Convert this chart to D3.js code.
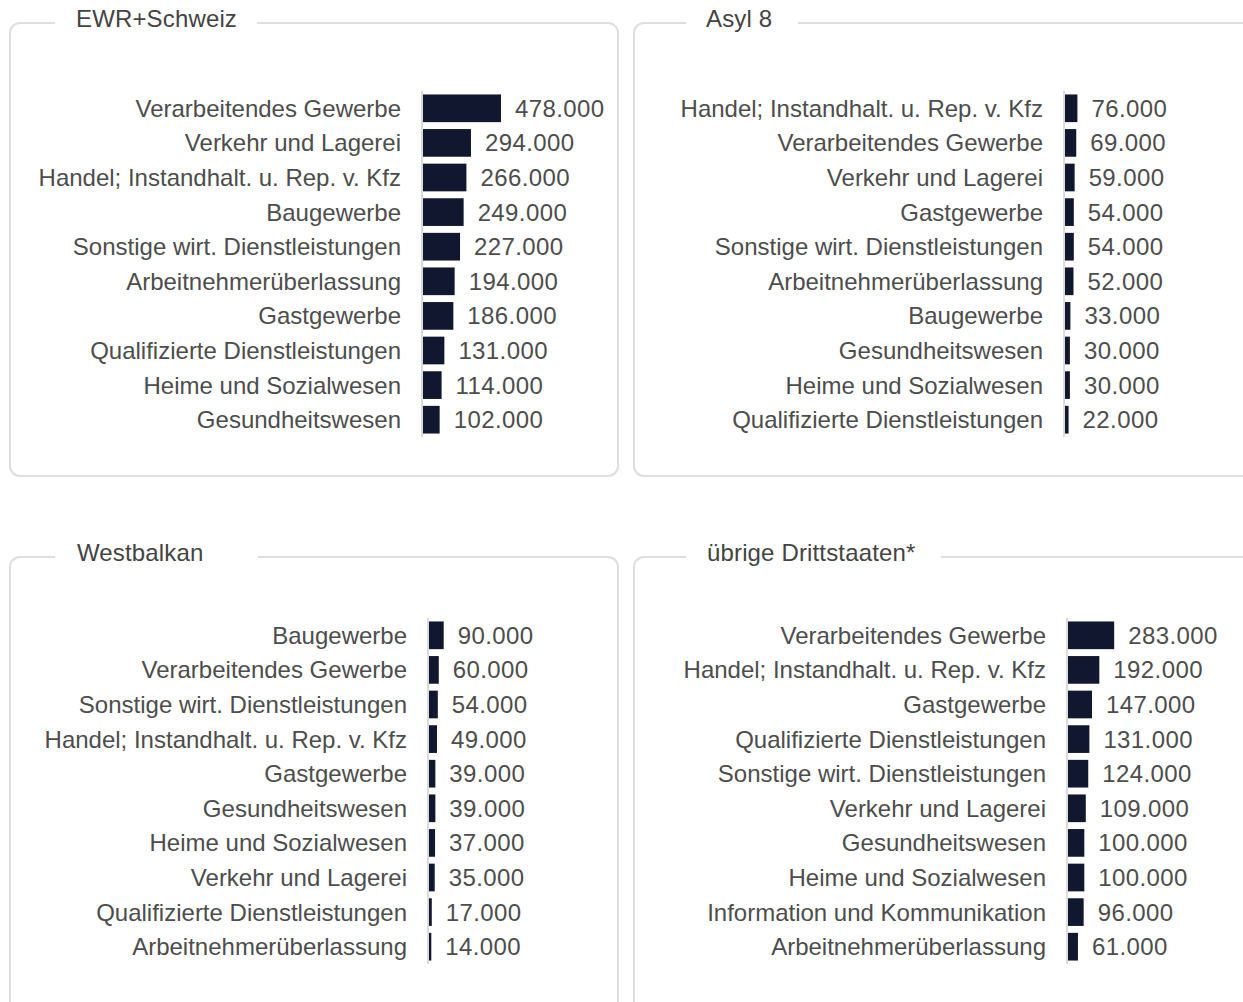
<!DOCTYPE html>
<html>
<head>
<meta charset="utf-8">
<script src="https://cdn.jsdelivr.net/npm/d3@7"></script>
<style>
  body { margin: 0; background: #fff; }
  text { font-family: "Liberation Sans", Arial, sans-serif; }
</style>
</head>
<body>
<script>
var width = 1243;
var height = 1002;

// data, one pair of arrays per panel
var ewrLabels = ["Verarbeitendes Gewerbe", "Verkehr und Lagerei", "Handel; Instandhalt. u. Rep. v. Kfz", "Baugewerbe",
    "Sonstige wirt. Dienstleistungen", "Arbeitnehmerüberlassung", "Gastgewerbe", "Qualifizierte Dienstleistungen",
    "Heime und Sozialwesen", "Gesundheitswesen"];
var ewrValues = [478000, 294000, 266000, 249000, 227000, 194000, 186000, 131000, 114000, 102000];

var asylLabels = ["Handel; Instandhalt. u. Rep. v. Kfz", "Verarbeitendes Gewerbe", "Verkehr und Lagerei", "Gastgewerbe",
    "Sonstige wirt. Dienstleistungen", "Arbeitnehmerüberlassung", "Baugewerbe", "Gesundheitswesen",
    "Heime und Sozialwesen", "Qualifizierte Dienstleistungen"];
var asylValues = [76000, 69000, 59000, 54000, 54000, 52000, 33000, 30000, 30000, 22000];

var balkanLabels = ["Baugewerbe", "Verarbeitendes Gewerbe", "Sonstige wirt. Dienstleistungen", "Handel; Instandhalt. u. Rep. v. Kfz",
    "Gastgewerbe", "Gesundheitswesen", "Heime und Sozialwesen", "Verkehr und Lagerei",
    "Qualifizierte Dienstleistungen", "Arbeitnehmerüberlassung"];
var balkanValues = [90000, 60000, 54000, 49000, 39000, 39000, 37000, 35000, 17000, 14000];

var drittLabels = ["Verarbeitendes Gewerbe", "Handel; Instandhalt. u. Rep. v. Kfz", "Gastgewerbe", "Qualifizierte Dienstleistungen",
    "Sonstige wirt. Dienstleistungen", "Verkehr und Lagerei", "Gesundheitswesen", "Heime und Sozialwesen",
    "Information und Kommunikation", "Arbeitnehmerüberlassung"];
var drittValues = [283000, 192000, 147000, 131000, 124000, 109000, 100000, 100000, 96000, 61000];

var panels = [
    { title: "EWR+Schweiz", labels: ewrLabels, values: ewrValues,
      x: 10, y: 23, w: 608, h: 453, gap: [55, 257], tx: 76, axisX: 422, top: 91 },
    { title: "Asyl 8", labels: asylLabels, values: asylValues,
      x: 634, y: 23, w: 620, h: 453, gap: [686, 798], tx: 706, axisX: 1064, top: 91 },
    { title: "Westbalkan", labels: balkanLabels, values: balkanValues,
      x: 10, y: 557, w: 608, h: 460, gap: [55, 258], tx: 77, axisX: 428, top: 618 },
    { title: "übrige Drittstaaten*", labels: drittLabels, values: drittValues,
      x: 634, y: 557, w: 620, h: 460, gap: [686, 941], tx: 707, axisX: 1067, top: 618 }
];

var de = d3.formatLocale({ decimal: ",", thousands: ".", grouping: [3], currency: ["", " €"] });
var fmt = de.format(",");

// all panels share one value scale
var x = d3.scaleLinear().domain([0, 478000]).range([0, 78]);

var svg = d3.select("body").append("svg")
    .attr("width", width)
    .attr("height", height);

panels.forEach(function (p) {
    var g = svg.append("g");

    g.append("rect")
        .attr("x", p.x).attr("y", p.y)
        .attr("width", p.w).attr("height", p.h)
        .attr("rx", 10).attr("ry", 10)
        .style("fill", "none")
        .style("stroke", "#dedede")
        .style("stroke-width", 2);

    // white gap in the border for the title
    g.append("rect")
        .attr("x", p.gap[0]).attr("y", p.y - 4)
        .attr("width", p.gap[1] - p.gap[0]).attr("height", 8)
        .style("fill", "#fff");

    g.append("text")
        .attr("x", p.tx).attr("y", p.y + 4)
        .style("font-size", "24px")
        .style("fill", "#444")
        .style("letter-spacing", "0.15px")
        .text(p.title);

    var y = d3.scaleBand()
        .domain(p.labels)
        .range([p.top, p.top + 346])
        .paddingInner(0.2)
        .paddingOuter(0.1);

    g.append("line")
        .attr("x1", p.axisX).attr("x2", p.axisX)
        .attr("y1", p.top).attr("y2", p.top + 346)
        .style("stroke", "#cfcfcf")
        .style("stroke-width", 1.5);

    var rows = g.selectAll(".row")
        .data(p.labels.map(function (l, i) { return { label: l, value: p.values[i] }; }))
        .enter().append("g")
        .attr("class", "row");

    rows.append("rect")
        .attr("x", p.axisX + 1)
        .attr("y", function (d) { return y(d.label); })
        .attr("width", function (d) { return x(d.value); })
        .attr("height", y.bandwidth())
        .style("fill", "#11172e");

    rows.append("text")
        .attr("x", p.axisX - 21)
        .attr("y", function (d) { return y(d.label) + y.bandwidth() / 2; })
        .attr("dy", "0.35em")
        .attr("text-anchor", "end")
        .style("font-size", "24px")
        .style("fill", "#4d4d4d")
        .text(function (d) { return d.label; });

    rows.append("text")
        .attr("x", function (d) { return p.axisX + 1 + x(d.value) + 14; })
        .attr("y", function (d) { return y(d.label) + y.bandwidth() / 2; })
        .attr("dy", "0.35em")
        .style("font-size", "24px")
        .style("letter-spacing", "0.4px")
        .style("fill", "#4d4d4d")
        .text(function (d) { return fmt(d.value); });
});
</script>
</body>
</html>
